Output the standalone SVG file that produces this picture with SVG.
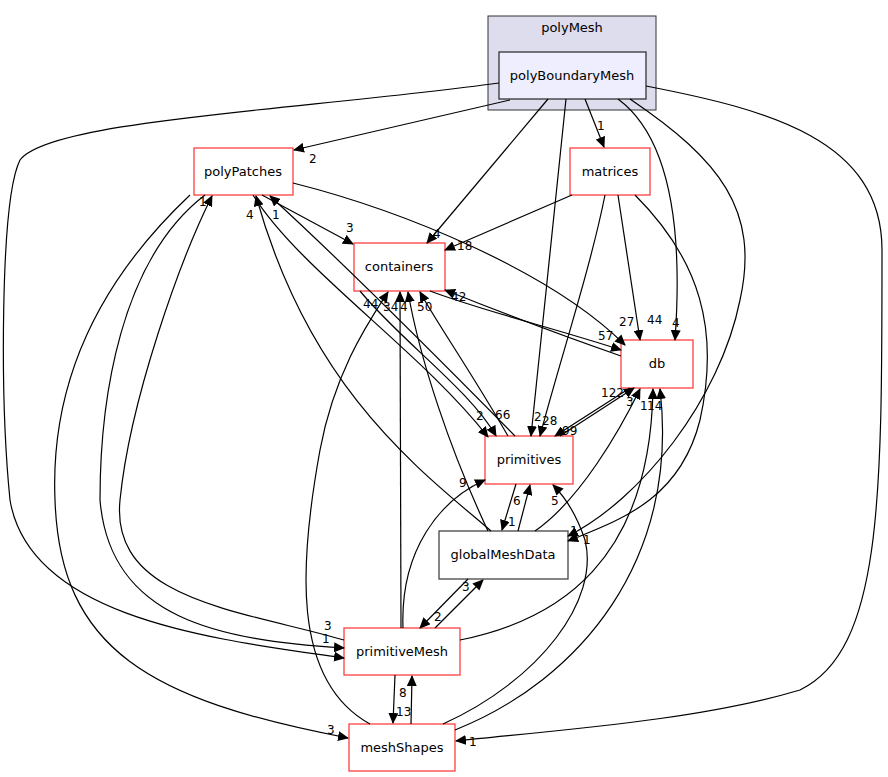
<svg xmlns="http://www.w3.org/2000/svg" width="888" height="777" viewBox="0 0 888 777">
<style>
text{font-family:"DejaVu Sans",sans-serif;font-size:13px;fill:#000}
.l{font-size:12px}
.n{fill:#fff;stroke:#ff4040;stroke-width:1.3}
.e path{fill:none;stroke:#000;stroke-width:1.2;marker-end:url(#a)}
</style>
<defs><marker id="a" markerWidth="11" markerHeight="10" refX="10" refY="5" orient="auto" markerUnits="userSpaceOnUse"><path d="M0,0L11,5L0,10z" fill="#000"/></marker></defs>
<rect width="888" height="777" fill="#fff"/>
<g id="cluster_polyMesh"><rect x="488" y="16" width="168" height="94" fill="#ddddee" stroke="#333"/><text x="572" y="32" text-anchor="middle">polyMesh</text></g>
<g id="polyBoundaryMesh"><rect x="499" y="52" width="147" height="47" fill="#eeeeff" stroke="#333" stroke-width="1.3"/><text x="572" y="80" text-anchor="middle">polyBoundaryMesh</text></g>
<g id="polyPatches"><rect class="n" x="194" y="148" width="99" height="47"/><text x="243" y="176" text-anchor="middle">polyPatches</text></g>
<g id="matrices"><rect class="n" x="570" y="148" width="80" height="47"/><text x="610" y="176" text-anchor="middle">matrices</text></g>
<g id="containers"><rect class="n" x="354" y="243" width="91" height="48"/><text x="399" y="271" text-anchor="middle">containers</text></g>
<g id="db"><rect class="n" x="621" y="340" width="72" height="48"/><text x="657" y="368" text-anchor="middle">db</text></g>
<g id="primitives"><rect class="n" x="485" y="436" width="88" height="48"/><text x="529" y="464" text-anchor="middle">primitives</text></g>
<g id="globalMeshData"><rect x="439" y="531" width="129" height="48" fill="#fff" stroke="#444" stroke-width="1.3"/><text x="503" y="559" text-anchor="middle">globalMeshData</text></g>
<g id="primitiveMesh"><rect class="n" x="344" y="628" width="116" height="47"/><text x="402" y="656" text-anchor="middle">primitiveMesh</text></g>
<g id="meshShapes"><rect class="n" x="349" y="724" width="106" height="47"/><text x="402" y="752" text-anchor="middle">meshShapes</text></g>
<g id="edges" class="e">
<path d="M510,100L294,150"/>
<path d="M548,99L427,243"/>
<path d="M566,99L531,436"/>
<path d="M585,99L604,147"/>
<path d="M618,99C660,130 685,200 675,340"/>
<path d="M630,99C720,160 760,210 740,300C720,400 640,500 568,536"/>
<path d="M499,83C300,110 50,120 20,160C0,200 0,400 10,500C30,620 220,640 344,658"/>
<path d="M646,86C770,110 882,140 882,250C882,500 882,650 800,690C700,720 560,730 456,741"/>
<path d="M262,195L353,244"/>
<path d="M293,183C400,210 550,270 625,345"/>
<path d="M253,195C300,270 420,350 488,437"/>
<path d="M205,195C120,260 100,400 100,500C110,620 220,640 344,648"/>
<path d="M190,195C100,280 50,380 55,500C60,650 150,700 348,738"/>
<path d="M572,195L445,250"/>
<path d="M618,195L640,340"/>
<path d="M605,195C590,270 560,360 540,436"/>
<path d="M635,195C700,260 720,330 700,420C680,500 620,520 568,541"/>
<path d="M430,291C480,310 560,330 621,350"/>
<path d="M621,356C560,335 500,312 445,290"/>
<path d="M630,388L555,436"/>
<path d="M560,436L634,388"/>
<path d="M515,436C450,370 340,260 270,196"/>
<path d="M508,436C470,370 435,320 420,292"/>
<path d="M360,291C400,340 470,390 496,436"/>
<path d="M516,484L502,530"/>
<path d="M518,531L530,485"/>
<path d="M491,531C420,470 310,390 256,196"/>
<path d="M488,531C450,450 420,360 408,292"/>
<path d="M535,531C580,500 620,430 640,389"/>
<path d="M468,579L420,628"/>
<path d="M435,628L483,580"/>
<path d="M403,628C400,550 440,500 485,480"/>
<path d="M401,628L400,292"/>
<path d="M344,640C240,610 110,600 120,500C130,400 180,260 212,196"/>
<path d="M460,640C560,620 650,560 653,389"/>
<path d="M395,675L393,723"/>
<path d="M411,724L412,676"/>
<path d="M370,724C290,680 300,560 320,450C335,370 370,320 388,292"/>
<path d="M443,724C540,680 600,600 585,540C575,510 563,495 553,485"/>
<path d="M455,730C580,680 680,560 660,389"/>
</g>
<g id="labels" class="l">
<text x="309" y="163" class="l">2</text><text x="433" y="238" class="l">4</text><text x="534" y="421" class="l">2</text><text x="597" y="130" class="l">1</text>
<text x="672" y="327" class="l">4</text><text x="570" y="535" class="l">1</text><text x="322" y="643" class="l">1</text><text x="469" y="746" class="l">1</text>
<text x="324" y="630" class="l">3</text><text x="346" y="232" class="l">3</text><text x="619" y="326" class="l">27</text><text x="476" y="420" class="l">2</text>
<text x="327" y="734" class="l">3</text><text x="457" y="250" class="l">18</text><text x="647" y="324" class="l">44</text><text x="542" y="425" class="l">28</text>
<text x="583" y="544" class="l">1</text><text x="598" y="340" class="l">57</text><text x="451" y="301" class="l">42</text><text x="562" y="435" class="l">99</text>
<text x="601" y="397" class="l">122</text><text x="272" y="219" class="l">1</text><text x="417" y="311" class="l">50</text><text x="495" y="419" class="l">66</text>
<text x="508" y="526" class="l">1</text><text x="513" y="505" class="l">6</text><text x="246" y="219" class="l">4</text><text x="400" y="311" class="l">4</text>
<text x="626" y="406" class="l">3</text><text x="434" y="621" class="l">2</text><text x="462" y="591" class="l">3</text><text x="459" y="487" class="l">9</text>
<text x="383" y="311" class="l">34</text><text x="199" y="206" class="l">1</text><text x="640" y="410" class="l">1</text><text x="396" y="716" class="l">13</text>
<text x="399" y="697" class="l">8</text><text x="363" y="308" class="l">44</text><text x="551" y="505" class="l">5</text><text x="647" y="410" class="l">14</text>
</g>
</svg>
